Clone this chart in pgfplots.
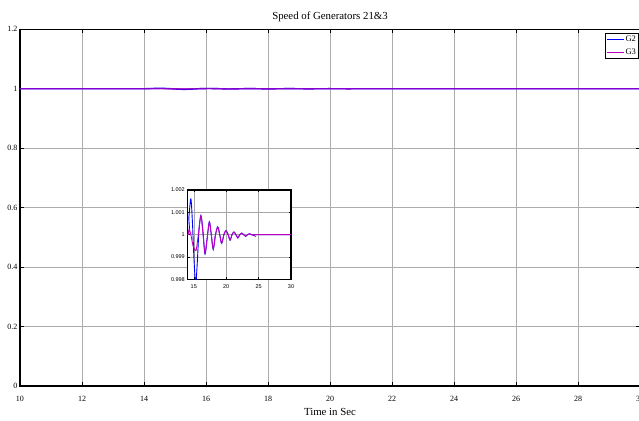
\documentclass[border=0pt]{standalone}
\usepackage{fontspec}
\setmainfont{Liberation Serif}
\newfontfamily\arialf{Liberation Sans}
\usepackage{pgfplots}
\usepackage{pgfplotstable}
\pgfplotsset{compat=1.18}
\definecolor{gtwo}{RGB}{0,0,255}
\definecolor{gthree}{RGB}{191,0,191}
\pgfplotstableread{
t w
10.0 1.0
14.0 1.0
14.25 1.0008
14.55 1.0016
14.8 1.0005
15.05 0.9988
15.3 0.9978
15.55 0.9988
15.8 1.0002
16.1 1.00085
16.4 1.0002
16.73 0.99913
17.05 0.9998
17.4 1.00058
17.7 1.0000
18.0 0.99934
18.35 1.0000
18.7 1.00035
19.0 1.0000
19.3 0.99961
19.65 1.0000
19.97 1.00018
20.3 1.0
20.6 0.99975
20.9 1.0
21.2 1.00012
21.5 1.0
21.8 0.99985
22.1 1.0
22.4 1.00007
22.7 1.0
23.0 0.99992
23.3 1.0
23.6 1.00004
23.9 1.0
24.2 0.99997
24.6 1.0
30.0 1.0
}\gtwodata
\pgfplotstableread{
t w
10.0 1.0
14.0 1.0
14.15 1.0001
14.3 1.00024
14.55 1.0000
14.9 0.9995
15.35 0.9993
15.7 1.0000
16.1 1.00085
16.4 1.0001
16.73 0.99919
17.05 0.9998
17.4 1.00056
17.7 1.0
18.0 0.99936
18.35 1.0
18.7 1.00034
19.0 1.0
19.3 0.99962
19.65 1.0
19.97 1.00018
20.3 1.0
20.6 0.99976
20.9 1.0
21.2 1.00012
21.5 1.0
21.8 0.99986
22.1 1.0
22.4 1.00007
22.7 1.0
23.0 0.99993
23.3 1.0
23.6 1.00004
23.9 1.0
24.2 0.99997
24.6 1.0
30.0 1.0
}\gthreedata
\begin{document}
\begin{tikzpicture}
\begin{axis}[
  at={(0pt,0pt)}, anchor=south west,
  scale only axis, width=620pt, height=356.7pt,
  xmin=10, xmax=30, ymin=0, ymax=1.2,
  xtick={10,12,14,16,18,20,22,24,26,28,30},
  xticklabels={10,12,14,16,18,20,22,24,26,28,30},
  ytick={0,0.2,0.4,0.6,0.8,1,1.2},
  yticklabels={0,0.2,0.4,0.6,0.8,1,1.2},
  grid=major, major grid style={gray!65, line width=0.6pt},
  tick align=inside, major tick length=4pt,
  tick style={black, line width=0.6pt},
  axis line style={line width=1.3pt},
  ticklabel style={font=\fontsize{8}{9}\selectfont},
  xticklabel style={yshift=-6.7pt},
  yticklabel style={xshift=1pt},
  title={Speed of Generators 21\&3},
  title style={font=\fontsize{10.8}{12}\selectfont, yshift=-2pt},
  xlabel={Time in Sec},
  xlabel style={font=\fontsize{10.8}{12}\selectfont, yshift=0pt},
  legend style={at={(1,1)}, anchor=north east, xshift=-1pt, yshift=-3.5pt,
    line width=1.1pt, font=\fontsize{8.5}{9}\selectfont,
    inner sep=1pt, row sep=2.5pt,
    nodes={inner sep=1.5pt}},
  legend cell align=left,
  legend image code/.code={\draw[#1] (0pt,0pt) -- (17pt,0pt);},
]
\addlegendimage{blue, line width=1pt}
\addlegendentry{G2}
\addlegendimage{gthree, line width=1pt}
\addlegendentry{G3}
\addplot[gtwo, line width=1.4pt, forget plot] table[x=t,y=w] {\gtwodata};
\addplot[gthree, line width=1.4pt, opacity=0.7, forget plot] table[x=t,y=w] {\gthreedata};
\end{axis}
\begin{axis}[
  at={(167.3pt,106.7pt)}, anchor=south west,
  scale only axis, width=103.7pt, height=89.3pt,
  xmin=14, xmax=30, ymin=0.998, ymax=1.002,
  xtick={15,20,25,30}, xticklabels={15,20,25,30},
  ytick={0.998,0.999,1,1.001,1.002},
  yticklabels={0.998,0.999,1,1.001,1.002},
  scaled y ticks=false,
  axis background/.style={fill=white},
  grid=major, major grid style={gray!70, line width=0.5pt},
  tick align=inside, major tick length=2.5pt,
  tick style={black, line width=0.5pt},
  axis line style={line width=1.1pt},
  ticklabel style={font=\arialf\fontsize{5.5}{6}\selectfont},
  xticklabel style={yshift=-1.5pt},
  yticklabel style={xshift=1pt},
]
\addplot[gtwo, line width=0.9pt, smooth] table[x=t,y=w] {\gtwodata};
\addplot[gthree, line width=0.9pt, smooth] table[x=t,y=w] {\gthreedata};
\end{axis}
\pgfresetboundingbox
\useasboundingbox (-20pt,-34pt) rectangle (619pt,386pt);
\end{tikzpicture}
\end{document}
